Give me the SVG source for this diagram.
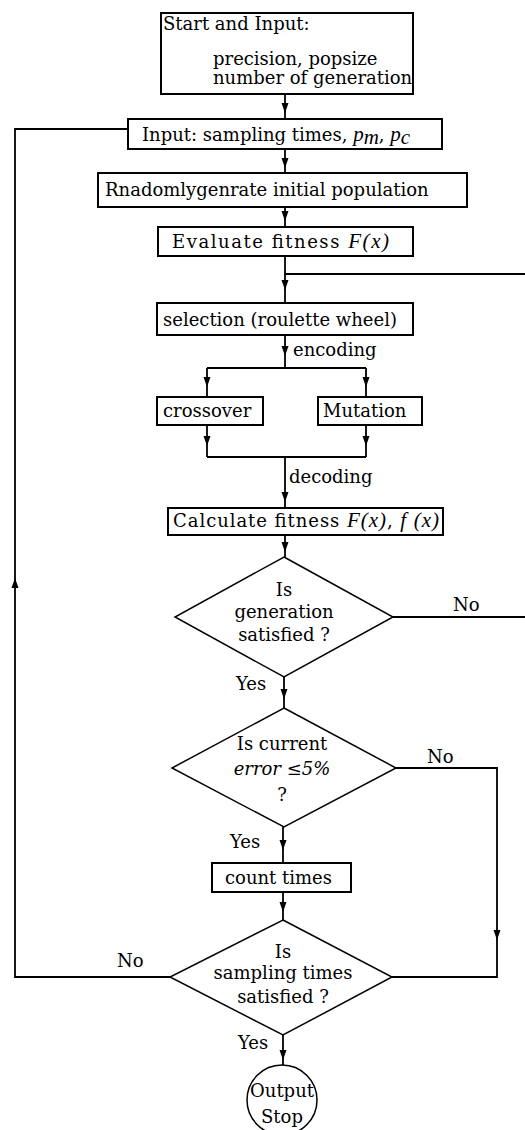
<svg xmlns="http://www.w3.org/2000/svg" width="525" height="1130" viewBox="0 0 525 1130">
<defs>
<marker id="ah" markerUnits="userSpaceOnUse" viewBox="0 0 10 8" refX="10" refY="4" markerWidth="10" markerHeight="8" orient="auto">
<path d="M0,0.5 L10,4 L0,7.5 z" fill="#000"/>
</marker>
<style>
.box{fill:#fff;stroke:#000;stroke-width:2}
.dia{fill:#fff;stroke:#000;stroke-width:1.5}
.t{font-family:"DejaVu Serif","Liberation Serif",serif;font-size:18px;fill:#000}
.c{text-anchor:middle}
.m{font-family:"Liberation Serif",serif;font-style:italic;font-size:21px}
.ln{fill:none;stroke:#000;stroke-width:1.8}
.am{marker-mid:url(#ah)}
.ae{marker-end:url(#ah)}
</style>
</defs>
<rect width="525" height="1130" fill="#fff"/>
<g id="connectors">
<path class="ln am" d="M285,94 V113 V119"/>
<path class="ln am" d="M285,149 V168 V173"/>
<path class="ln am" d="M285,207 V221 V227"/>
<path class="ln am" d="M285,256 V290 V303"/>
<path class="ln" d="M285,274 H525"/>
<path class="ln am" d="M285,335 V356 V368"/>
<path class="ln" d="M207,368 H366"/>
<path class="ln am" d="M207,368 V387 V397"/>
<path class="ln am" d="M366,368 V387 V397"/>
<path class="ln am" d="M207,425 V446 V457"/>
<path class="ln am" d="M366,425 V446 V457"/>
<path class="ln" d="M207,457 H366"/>
<path class="ln am" d="M285,457 V502 V508"/>
<path class="ln am" d="M285,535 V552 V557"/>
<path class="ln" d="M393,617 H525"/>
<path class="ln am" d="M284,677 V699 V708"/>
<path class="ln ae" d="M396,768 H497 V940"/>
<path class="ln" d="M497,940 V977 H392"/>
<path class="ln am" d="M283,827 V850 V863"/>
<path class="ln am" d="M283,892 V912 V920"/>
<path class="ln ae" d="M170,977 H15 V578"/>
<path class="ln" d="M15,578 V129 H128"/>
<path class="ln am" d="M283,1035 V1060 V1065"/>
</g>
<g id="start">
<rect class="box" x="161" y="13" width="252" height="81"/>
<text class="t" x="163" y="30">Start and Input:</text>
<text class="t" x="213" y="65">precision, popsize</text>
<text class="t" x="213" y="84">number of generation</text>
</g>
<g id="input">
<rect class="box" x="128" y="119" width="314" height="30"/>
<text class="t" x="142" y="141">Input:  sampling times, <tspan class="m">p</tspan><tspan class="m" font-size="15" dy="3">m</tspan><tspan dy="-3">, </tspan><tspan class="m">p</tspan><tspan class="m" font-size="15" dy="3">c</tspan></text>
</g>
<g id="init">
<rect class="box" x="98" y="173" width="369" height="34"/>
<text class="t" x="105" y="196">Rnadomlygenrate initial population</text>
</g>
<g id="evaluate">
<rect class="box" x="158" y="227" width="255" height="29"/>
<text class="t" x="172" y="248" textLength="217" lengthAdjust="spacing">Evaluate fitness <tspan class="m">F</tspan><tspan class="m" font-style="normal">(</tspan><tspan class="m">x</tspan><tspan class="m" font-style="normal">)</tspan></text>
</g>
<g id="selection">
<rect class="box" x="157" y="303" width="256" height="32"/>
<text class="t" x="163" y="326">selection (roulette wheel)</text>
</g>
<text class="t" x="293" y="356">encoding</text>
<g id="crossover">
<rect class="box" x="157" y="397" width="106" height="28"/>
<text class="t" x="163" y="417">crossover</text>
</g>
<g id="mutation">
<rect class="box" x="318" y="397" width="104" height="28"/>
<text class="t" x="323" y="417">Mutation</text>
</g>
<text class="t" x="289" y="483">decoding</text>
<g id="calculate">
<rect class="box" x="168" y="508" width="275" height="27"/>
<text class="t" x="173" y="527" textLength="266" lengthAdjust="spacing">Calculate  fitness <tspan class="m">F</tspan><tspan class="m" font-style="normal">(</tspan><tspan class="m">x</tspan><tspan class="m" font-style="normal">)</tspan>, <tspan class="m">f</tspan> <tspan class="m" font-style="normal">(</tspan><tspan class="m">x</tspan><tspan class="m" font-style="normal">)</tspan></text>
</g>
<g id="dec-generation">
<polygon class="dia" points="284,557 393,617 284,677 175,617"/>
<text class="t c" x="284" y="596">Is</text>
<text class="t c" x="284" y="618">generation</text>
<text class="t c" x="284" y="641">satisfied ?</text>
</g>
<text class="t" x="453" y="611">No</text>
<text class="t" x="236" y="690">Yes</text>
<g id="dec-error">
<polygon class="dia" points="284,708 396,768 284,827 172,768"/>
<text class="t c" x="282" y="750">Is current</text>
<text class="t c" x="282" y="775" font-style="italic">error ≤5%</text>
<text class="t c" x="282" y="801">?</text>
</g>
<text class="t" x="427" y="763">No</text>
<text class="t" x="230" y="848">Yes</text>
<g id="count">
<rect class="box" x="212" y="863" width="139" height="29"/>
<text class="t" x="225" y="884">count times</text>
</g>
<g id="dec-sampling">
<polygon class="dia" points="283,920 392,977 283,1035 170,977"/>
<text class="t c" x="283" y="958">Is</text>
<text class="t c" x="283" y="979">sampling times</text>
<text class="t c" x="283" y="1003">satisfied ?</text>
</g>
<text class="t" x="117" y="967">No</text>
<text class="t" x="238" y="1049">Yes</text>
<g id="stop">
<circle cx="282" cy="1100" r="35" fill="#fff" stroke="#000" stroke-width="1.5"/>
<text class="t c" x="282" y="1097">Output</text>
<text class="t c" x="282" y="1123">Stop</text>
</g>
</svg>
